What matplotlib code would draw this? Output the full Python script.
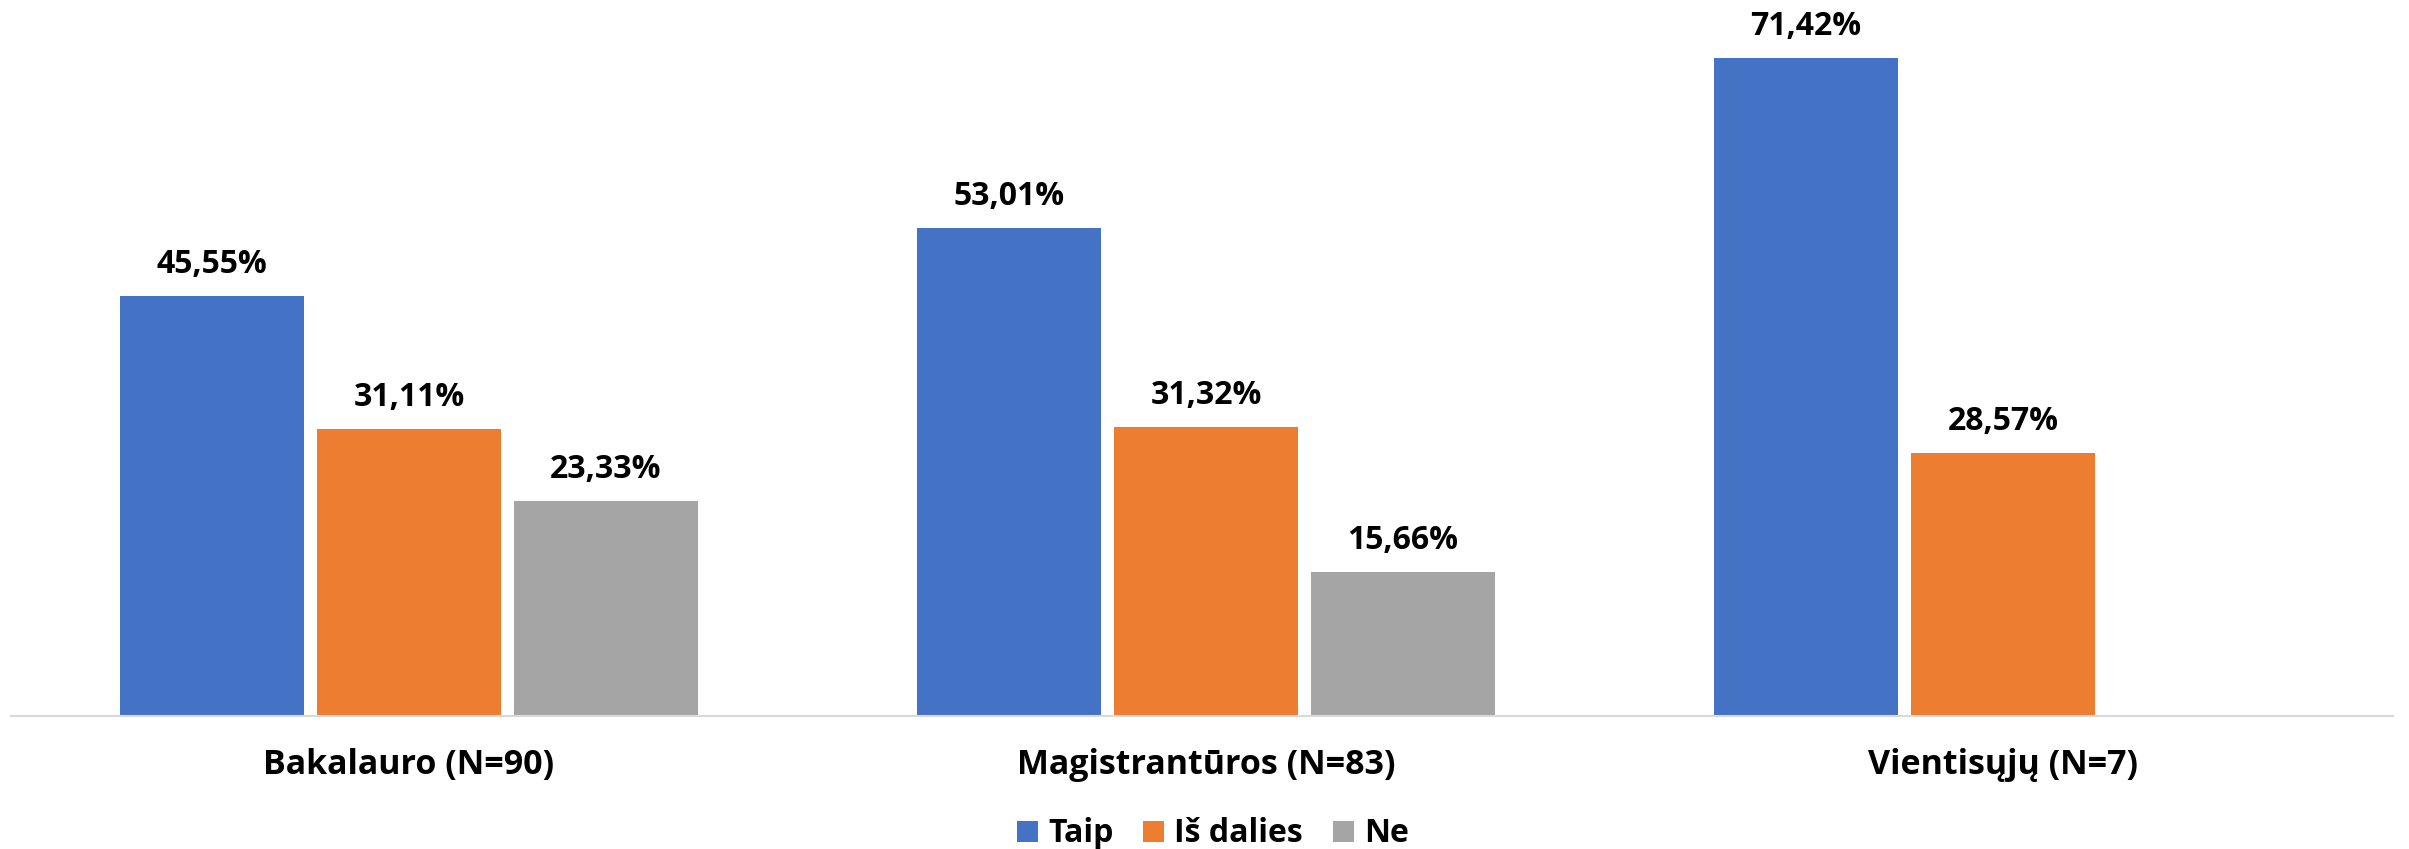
import numpy as np
import matplotlib.pyplot as plt

categories = ['Bakalauro (N=90)', 'Magistrantūros (N=83)', 'Vientisųjų (N=7)']
series_names = ['Taip', 'Iš dalies', 'Ne']
taip = [45.55, 53.01, 71.42]
is_dalies = [31.11, 31.32, 28.57]
ne = [23.33, 15.66, np.nan]

colors = ['#4472C4', '#ED7D31', '#A5A5A5']
FONT = 'Open Sans'


def fmt(v):
    return ('%.2f' % v).replace('.', ',') + '%'


def main():
    fig = plt.figure(figsize=(24.09, 8.49), dpi=100)
    ax = fig.add_axes([11 / 2409, 133 / 849, 2382 / 2409, 716 / 849])

    x = np.arange(len(categories))
    width = 0.2309
    step = 0.2472
    handles = []
    for i, (name, vals) in enumerate(zip(series_names, [taip, is_dalies, ne])):
        pos = x + (i - 1) * step
        h = ax.bar(pos, vals, width=width, color=colors[i], label=name)
        handles.append(h)
        for p, v in zip(pos, vals):
            if np.isnan(v):
                continue
            ax.annotate(fmt(v), (p, v), xytext=(0, 16.5), textcoords='offset points',
                        ha='center', va='baseline',
                        fontsize=23, fontweight='bold', family=FONT)

    ax.set_xlim(-0.4994, 2.4893)
    ax.set_ylim(0, 77.7)
    ax.set_xticks(x)
    ax.set_xticklabels(categories, fontsize=24.5, fontweight='bold', family=FONT)
    ax.tick_params(axis='x', length=0, pad=23)
    ax.set_yticks([])
    for s in ['top', 'left', 'right']:
        ax.spines[s].set_visible(False)
    ax.spines['bottom'].set_color('#D9D9D9')
    ax.spines['bottom'].set_linewidth(1.5)

    fig.legend(handles=handles, loc='center', bbox_to_anchor=(1213 / 2409, 1 - 834 / 849),
               ncol=3, frameon=False, handlelength=0.66, handleheight=0.63,
               handletextpad=0.31, columnspacing=0.94,
               prop={'family': FONT, 'weight': 'bold', 'size': 23})

    fig.savefig('out.png', dpi=100)


if __name__ == '__main__':
    main()
